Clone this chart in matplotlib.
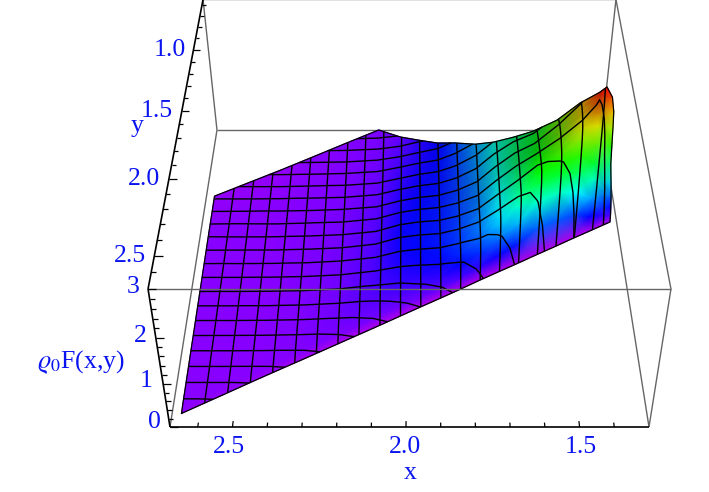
import numpy as np
import matplotlib
matplotlib.use('Agg')
import matplotlib.pyplot as plt
from matplotlib.colors import LinearSegmentedColormap

plt.rcParams['font.family'] = ['Liberation Serif', 'DejaVu Serif']
plt.rcParams['mathtext.fontset'] = 'stix'

# box limits
x_max, x_min = 2.68, 1.30
y_front, y_back = 2.70, 0.545
z_low, z_top = 0.0, 3.0

# surface: one entry per column of constant x
x_cols = [2.652, 2.542, 2.432, 2.321, 2.211, 2.100, 2.023, 1.960, 1.893,
          1.834, 1.768, 1.711, 1.649, 1.586, 1.515, 1.450, 1.401, 1.322]
y_near = [2.625, 2.517, 2.407, 2.299, 2.191, 2.082, 2.006, 1.944, 1.879,
          1.821, 1.754, 1.698, 1.638, 1.575, 1.506, 1.441, 1.394, 1.317]
y_far = [1.118, 1.008, 0.898, 0.786, 0.674, 0.567, 0.651, 0.722, 0.791,
         0.855, 0.952, 1.043, 1.100, 1.116, 1.179, 1.230, 1.317, 1.308]
# the last column leans over a little on its way up
x_last = [1.322, 1.323, 1.325, 1.328, 1.333, 1.341, 1.344, 1.347, 1.350, 1.359, 1.379]
# position between near and far edge
s_rows = [0, 0.03, 0.07, 0.12, 0.18, 0.26, 0.36, 0.48, 0.62, 0.80, 1.0]
# height, one line per column, near edge first
heights = [
    [.02, .03, .03, .03, .03, .03, .03, .03, .03, .03, .02],
    [.02, .03, .03, .03, .03, .03, .03, .03, .03, .03, .02],
    [.015, .03, .035, .035, .035, .035, .035, .035, .03, .03, .02],
    [.01, .04, .05, .05, .05, .05, .05, .05, .05, .04, .03],
    [.005, .05, .08, .09, .09, .09, .09, .08, .07, .05, .04],
    [.00, .08, .13, .16, .18, .18, .17, .15, .12, .09, .06],
    [.00, .09, .15, .225, .27, .315, .33, .30, .255, .195, .12],
    [.00, .09, .18, .27, .33, .375, .39, .375, .345, .30, .24],
    [.00, .12, .24, .33, .39, .42, .42, .42, .40, .38, .36],
    [.00, .18, .36, .45, .50, .52, .52, .52, .52, .52, .54],
    [.00, .24, .48, .60, .66, .69, .69, .69, .72, .75, .78],
    [.00, .33, .63, .84, .93, .96, .99, 1.02, 1.05, 1.08, 1.08],
    [.00, .42, .81, 1.14, 1.26, 1.29, 1.32, 1.35, 1.38, 1.38, 1.35],
    [.00, .60, 1.14, 1.50, 1.65, 1.68, 1.68, 1.65, 1.62, 1.59, 1.53],
    [.00, .60, 1.20, 1.56, 1.74, 1.86, 1.92, 1.98, 2.01, 2.01, 1.95],
    [.00, .54, 1.02, 1.44, 1.80, 2.10, 2.28, 2.37, 2.43, 2.46, 2.46],
    [.00, .36, .78, 1.20, 1.56, 1.98, 2.34, 2.58, 2.76, 2.88, 2.91],
    [.00, .18, .36, .60, .90, 1.35, 1.74, 2.16, 2.49, 2.79, 3.00],
]
# how much darker the surface gets on top, per column at the far edge
dark_cols = [0, 0, 0, 0, 0, 0, .02, .05, .08, .12, .20, .26, .28, .30, .32, .32, .25, .05]
dark_rows = [0, 0, 0, 0, .1, .3, .55, .8, 1, 1, 1]

# mesh lines
x_lines = [2.652 - 0.0634 * k for k in range(1, 21)]
y_lines = [0.64 + 0.1 * k for k in range(20)]

# ticks
x_ticks = [2.6, 2.5, 2.4, 2.3, 2.2, 2.1, 2.0, 1.9, 1.8, 1.7, 1.6, 1.5, 1.4]
x_major = [2.5, 2.0, 1.5]
y_ticks = [2.6, 2.5, 2.4, 2.3, 2.2, 2.1, 2.0, 1.9, 1.8, 1.7, 1.6, 1.5, 1.4,
           1.3, 1.2, 1.1, 1.0, 0.9, 0.8, 0.7, 0.6]
y_major = [2.5, 2.0, 1.5, 1.0]
z_ticks = [0, .2, .4, .6, .8, 1, 1.2, 1.4, 1.6, 1.8, 2, 2.2, 2.4, 2.6, 2.8, 3]
z_major = [0, 1, 2, 3]

# hue from height
hue_stops = [(0.0, '#b000e8'), (0.008, '#8a00ff'), (0.12, '#0000ff'), (0.34, '#00ffff'),
             (0.56, '#00ff00'), (0.78, '#ffff00'), (1.0, '#ff0000')]
surface_cmap = LinearSegmentedColormap.from_list('surface_hue', hue_stops, N=1024)


def project(x, y, z):
    # perspective of the box onto the picture, in pixels
    bx = (x_max - np.asarray(x, dtype=float)) / (x_max - x_min)
    by = (y_front - np.asarray(y, dtype=float)) / (y_front - y_back)
    bz = (np.asarray(z, dtype=float) - z_low) / (z_top - z_low)
    w = 1 - 0.084 * bz + 0.244 * by
    return 409.5 + 239.5 * (2 * bx - 1) / w, (427 - 162.3 * bz - 265.3 * by) / w


def edge(ax, p, q, color='#666666', lw=1.0, zorder=1):
    sx, sy = project([p[0], q[0]], [p[1], q[1]], [p[2], q[2]])
    ax.plot(sx, sy, color=color, lw=lw, zorder=zorder, solid_capstyle='butt')


fig = plt.figure(figsize=(7.09, 4.92), dpi=100)
ax = fig.add_axes([0, 0, 1, 1])
ax.set_xlim(0, 709)
ax.set_ylim(492, 0)
ax.axis('off')

# box edges behind the surface
edge(ax, (x_max, y_back, z_low), (x_min, y_back, z_low))
edge(ax, (x_max, y_front, z_low), (x_max, y_back, z_low))
edge(ax, (x_min, y_front, z_low), (x_min, y_back, z_low))
edge(ax, (x_max, y_back, z_low), (x_max, y_back, z_top))
edge(ax, (x_min, y_back, z_low), (x_min, y_back, z_top))
edge(ax, (x_max, y_back, z_top), (x_min, y_back, z_top))

# surface
near = np.array(y_near)
far = np.array(y_far)
s = np.array(s_rows)
grid_x = np.tile(np.array(x_cols), (len(s), 1))
grid_x[:, -1] = x_last
grid_y = near + s[:, None] * (far - near)
grid_z = np.array(heights).T
sx, sy = project(grid_x, grid_y, grid_z)
mesh = ax.pcolormesh(sx, sy, grid_z, shading='gouraud', zorder=2)
# colour per node: hue from height, then darkened towards the far edge
node_colors = surface_cmap(grid_z / z_top)
node_colors[..., :3] *= (1 - np.outer(dark_rows, dark_cols))[..., None]
mesh.set_array(None)
mesh.set_facecolor(node_colors.reshape(-1, 4))
ax.contour(sx, sy, grid_x, levels=sorted(x_lines), colors='k', linewidths=1.0, zorder=3)
ax.contour(sx, sy, grid_y, levels=y_lines, colors='k', linewidths=1.0, zorder=3)
outline_x = np.r_[sx[0], sx[:, -1], sx[-1][::-1], sx[:, 0][::-1]]
outline_y = np.r_[sy[0], sy[:, -1], sy[-1][::-1], sy[:, 0][::-1]]
ax.plot(outline_x, outline_y, color='k', lw=0.9, zorder=3)

# box edges in front of the surface
edge(ax, (x_max, y_front, z_top), (x_min, y_front, z_top), zorder=4)
edge(ax, (x_min, y_front, z_top), (x_min, y_back, z_top), zorder=4)
edge(ax, (x_min, y_front, z_low), (x_min, y_front, z_top), zorder=4)

# black axes with ticks
edge(ax, (x_max, y_front, z_low), (x_min, y_front, z_low), color='k', lw=1.2, zorder=5)
edge(ax, (x_max, y_front, z_top), (x_max, y_back, z_top), color='k', lw=1.2, zorder=5)
edge(ax, (x_max, y_front, z_low), (x_max, y_front, z_top), color='k', lw=1.2, zorder=5)
for v in x_ticks:
    length = 0.016 if v in x_major else 0.012
    edge(ax, (v, y_front, z_low), (v, y_front - length * (y_front - y_back), z_low), color='k', lw=0.9, zorder=5)
for v in y_ticks:
    length = 0.016 if v in y_major else 0.009
    edge(ax, (x_max, v, z_top), (x_max - length * (x_max - x_min), v, z_top), color='k', lw=0.9, zorder=5)
for v in z_ticks:
    length = 0.016 if v in z_major else 0.010
    edge(ax, (x_max, y_front, v), (x_max - length * (x_max - x_min), y_front, v), color='k', lw=0.9, zorder=5)

# labels
blue = '#0a14f0'
font_size = 18.5
for txt, px, py in [('2.5', 229, 447), ('2.0', 405, 447), ('1.5', 581, 447)]:
    ax.text(px, py, txt, color=blue, fontsize=font_size, ha='center', va='center')
for txt, px, py in [('1.0', 186, 50), ('1.5', 173, 111), ('2.0', 160, 179), ('2.5', 146, 256)]:
    ax.text(px, py, txt, color=blue, fontsize=font_size, ha='right', va='center')
for txt, px, py in [('3', 140, 287), ('2', 147, 336), ('1', 153, 381), ('0', 161, 422)]:
    ax.text(px, py, txt, color=blue, fontsize=font_size, ha='right', va='center')
ax.text(137, 126, 'y', color=blue, fontsize=font_size, ha='center', va='center')
ax.text(410, 473, 'x', color=blue, fontsize=font_size, ha='center', va='center')
ax.text(81, 362, r'$\varrho_0$F(x,y)', color=blue, fontsize=font_size, ha='center', va='center')

fig.savefig('out.png', dpi=100)
